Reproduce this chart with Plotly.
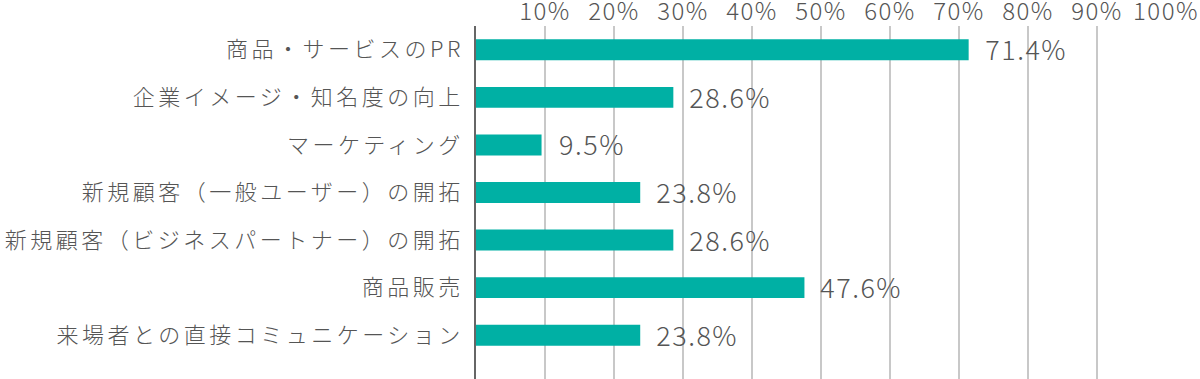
import plotly.graph_objects as go

categories = [
    "商品・サービスのPR",
    "企業イメージ・知名度の向上",
    "マーケティング",
    "新規顧客（一般ユーザー）の開拓",
    "新規顧客（ビジネスパートナー）の開拓",
    "商品販売",
    "来場者との直接コミュニケーション",
]
values = [71.4, 28.6, 9.5, 23.8, 28.6, 47.6, 23.8]
tick_vals = [10, 20, 30, 40, 50, 60, 70, 80, 90, 100]
tick_text = ["10%", "20%", "30%", "40%", "50%", "60%", "70%", "80%", "90%", "100%"]

BAR = "#00B0A4"
TXT = "#555555"
FONT = "Noto Sans CJK JP"

fig = go.Figure()
fig.add_trace(go.Bar(
    x=values, y=categories, orientation="h",
    marker=dict(color=BAR, line=dict(width=0)),
    width=0.44,
    hoverinfo="skip",
))

for c, v in zip(categories, values):
    fig.add_annotation(
        x=v, y=c, text=f"{v:.1f}%", showarrow=False,
        xanchor="left", yanchor="middle", xshift=18, yshift=1,
        font=dict(family=FONT, size=27, color=TXT, weight=300),
    )

fig.update_layout(
    width=1200, height=379,
    margin=dict(l=476, r=34, t=26, b=0),
    paper_bgcolor="white", plot_bgcolor="white",
    showlegend=False,
    font=dict(family=FONT, color=TXT),
    bargap=0.5,
)
fig.update_xaxes(
    side="top", range=[0, 100], automargin=False,
    tickvals=tick_vals, ticktext=tick_text,
    tickfont=dict(family=FONT, size=24, color=TXT, weight=300),
    showgrid=True, gridcolor="#C8C8C8", gridwidth=1.5,
    zeroline=False, showline=False, ticks="",
    ticklabelstandoff=0,
)
fig.update_yaxes(
    categoryorder="array", categoryarray=categories,
    range=[6.92, -0.5], automargin=False,
    tickfont=dict(family=FONT, size=22, color=TXT, weight=300),
    showgrid=False, zeroline=False,
    showline=True, linecolor="#666666", linewidth=1.5,
    ticks="", ticklabelstandoff=6,
)

post = """
var s = document.createElement('style');
s.textContent = 'html,body{margin:0;padding:0;overflow:hidden}' +
  '.ytick text{letter-spacing:3.5px}' +
  '.xtick text{letter-spacing:1.5px}' +
  '.annotation-text{letter-spacing:1.5px}';
document.head.appendChild(s);
"""

fig.write_html("out.html", post_script=post, config={"displayModeBar": False})
